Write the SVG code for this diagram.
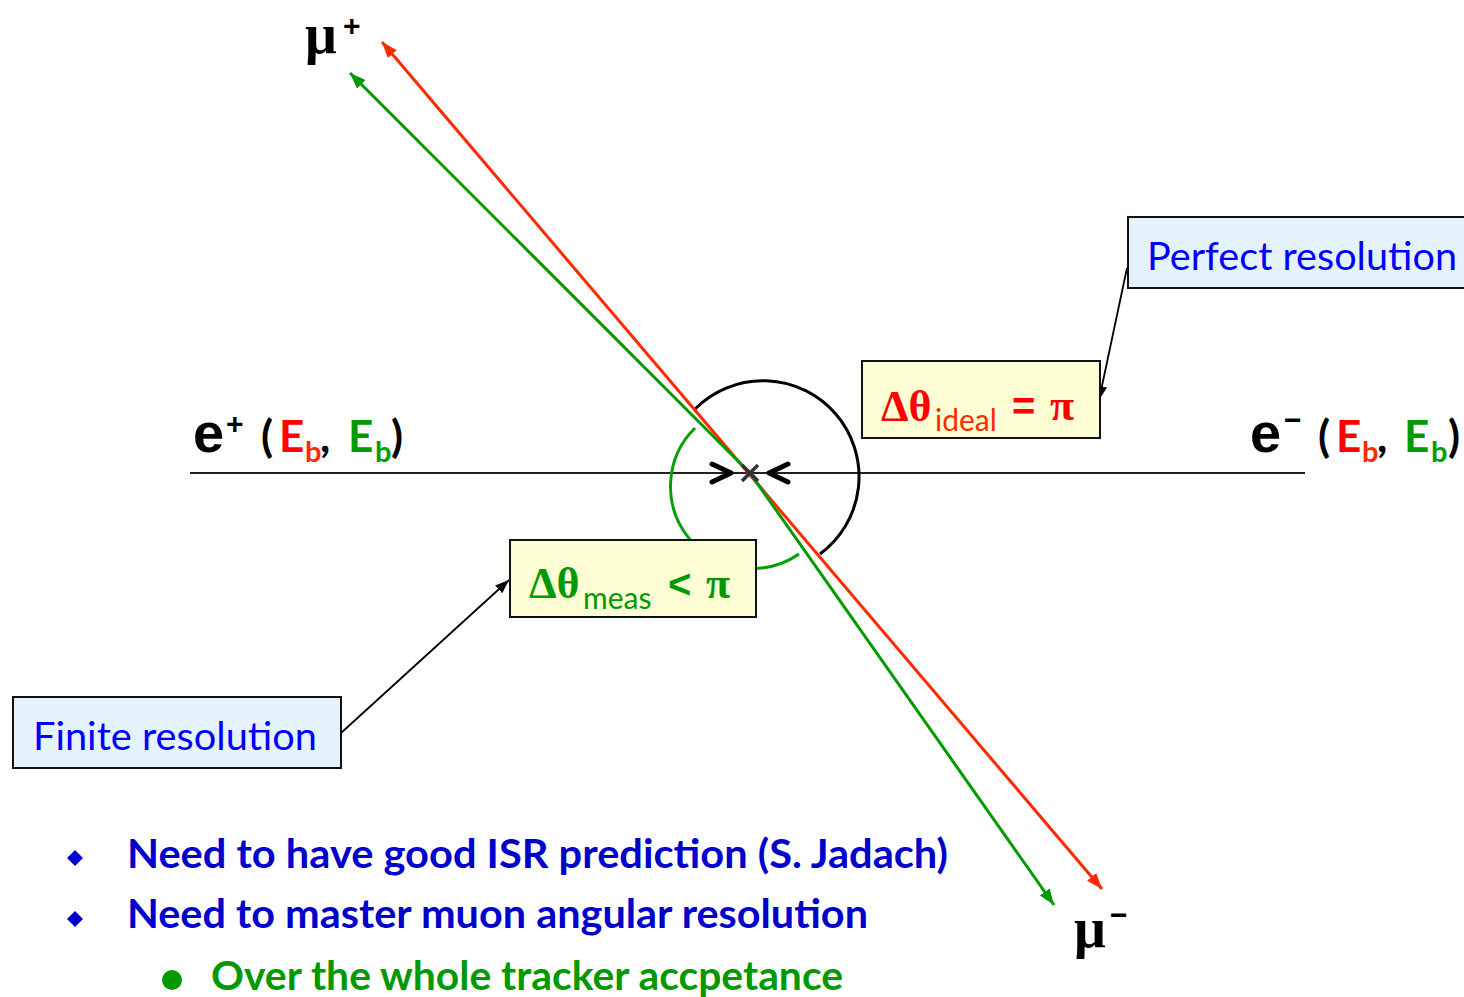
<svg xmlns="http://www.w3.org/2000/svg" width="1464" height="997" viewBox="0 0 1464 997">
<defs>
<style>
.sans{font-family:Lato,"Open Sans","Liberation Sans",sans-serif}
.serif{font-family:"Liberation Serif","DejaVu Serif",serif;font-weight:bold}
.big{font-family:"Liberation Sans",Arial,sans-serif;font-weight:bold}
.bul{font-family:Lato,"Open Sans","Liberation Sans",sans-serif;font-weight:bold;font-size:40px}
.lbl{font-family:Lato,"Open Sans","Liberation Sans",sans-serif;font-weight:bold;font-size:44px}
.sub{font-size:29px}
.box{stroke:#111;stroke-width:2}
.ybox{fill:#ffffd5}
.bbox{fill:#e5f3ff}
</style>
<marker id="arR" viewBox="0 0 16 12" refX="16" refY="6" markerWidth="16" markerHeight="12" markerUnits="userSpaceOnUse" orient="auto-start-reverse"><path d="M0,0 L16,6 L0,12 z" fill="#ff2a00"/></marker>
<marker id="arG" viewBox="0 0 16 12" refX="16" refY="6" markerWidth="16" markerHeight="12" markerUnits="userSpaceOnUse" orient="auto-start-reverse"><path d="M0,0 L16,6 L0,12 z" fill="#009900"/></marker>
<marker id="arK" viewBox="0 0 16 12" refX="16" refY="6" markerWidth="14" markerHeight="11" markerUnits="userSpaceOnUse" orient="auto"><path d="M0,0 L16,6 L0,12 z" fill="#000"/></marker>
</defs>
<rect width="1464" height="997" fill="#fff"/>

<g id="connectors" fill="none">
  <path d="M190,473 L1305,473" stroke="#222" stroke-width="2"/>
  <path d="M695,409 A96,96 0 1 1 820,554" stroke="#000" stroke-width="3"/>
  <path d="M695,428 A82,82 0 0 0 799,554" stroke="#00a000" stroke-width="3"/>
  <path d="M382,42 L1102,889" stroke="#ff2a00" stroke-width="3" marker-start="url(#arR)" marker-end="url(#arR)"/>
  <path d="M750,473 L350,73" stroke="#009900" stroke-width="3" marker-end="url(#arG)"/>
  <path d="M750,473 L1054,905" stroke="#009900" stroke-width="3" marker-end="url(#arG)"/>
  <path d="M712,464 L731,473 L712,482 M788,464 L769,473 L788,482" stroke="#000" stroke-width="5" stroke-linecap="round" stroke-linejoin="round"/>
  <path d="M742,465 L758,481 M758,465 L742,481" stroke="#333" stroke-width="3.5"/>
  <path d="M341,733 L509,580" stroke="#000" stroke-width="1.8" marker-end="url(#arK)"/>
  <path d="M1127,268 L1099,400" stroke="#000" stroke-width="1.8" marker-end="url(#arK)"/>
</g>

<g id="mu-plus">
  <text x="305" y="53" class="serif" font-size="56" fill="#000">μ</text>
  <text x="343" y="36" class="big" font-size="30" fill="#000">+</text>
</g>
<g id="mu-minus">
  <text x="1074" y="947" class="serif" font-size="56" fill="#000">μ</text>
  <text x="1110" y="925" class="big" font-size="30" fill="#000">−</text>
</g>

<g id="e-plus">
  <text x="193" y="452" class="big" font-size="56" fill="#000">e</text>
  <text x="226" y="434" class="big" font-size="30" fill="#000">+</text>
  <text y="452" class="lbl"><tspan x="261" fill="#000">(</tspan><tspan x="279" fill="#ff0000">E</tspan><tspan x="305" y="462" class="sub" fill="#ff2a00">b</tspan><tspan x="320" y="452" fill="#000">,</tspan><tspan x="348" fill="#009900">E</tspan><tspan x="375" y="462" class="sub" fill="#00a000">b</tspan><tspan x="391" y="452" fill="#000">)</tspan></text>
</g>
<g id="e-minus">
  <text x="1250" y="452" class="big" font-size="56" fill="#000">e</text>
  <text x="1284" y="430" class="big" font-size="30" fill="#000">−</text>
  <text y="452" class="lbl"><tspan x="1318" fill="#000">(</tspan><tspan x="1336" fill="#ff0000">E</tspan><tspan x="1362" y="462" class="sub" fill="#ff2a00">b</tspan><tspan x="1377" y="452" fill="#000">,</tspan><tspan x="1404" fill="#009900">E</tspan><tspan x="1431" y="462" class="sub" fill="#00a000">b</tspan><tspan x="1448" y="452" fill="#000">)</tspan></text>
</g>

<g id="ideal-box">
  <rect x="862" y="361" width="238" height="77" class="box ybox"/>
  <text x="881" y="421" class="serif" font-size="44" fill="#ff0000">Δθ</text>
  <text x="935" y="431" class="sans" font-size="30" fill="#ff2a00">ideal</text>
  <text x="1012" y="420" class="big" font-size="40" fill="#ff0000">=</text>
  <text x="1050" y="420" class="serif" font-size="44" fill="#ff0000">π</text>
</g>

<g id="meas-box">
  <rect x="510" y="540" width="246" height="77" class="box ybox"/>
  <text x="529" y="598" class="serif" font-size="44" fill="#009900">Δθ</text>
  <text x="583" y="609" class="sans" font-size="30" fill="#009900">meas</text>
  <text x="668" y="598" class="big" font-size="40" fill="#009900">&lt;</text>
  <text x="706" y="598" class="serif" font-size="44" fill="#009900">π</text>
</g>

<g id="perfect-box">
  <rect x="1128" y="217" width="342" height="71" class="box bbox"/>
  <text x="1147" y="270" class="sans" font-size="38" fill="#0000ff" textLength="310" lengthAdjust="spacingAndGlyphs">Perfect resolution</text>
</g>

<g id="finite-box">
  <rect x="13" y="697" width="328" height="71" class="box bbox"/>
  <text x="33" y="750" class="sans" font-size="38" fill="#0000ff" textLength="284" lengthAdjust="spacingAndGlyphs">Finite resolution</text>
</g>

<g id="bullets">
  <path d="M75,850 L83,858 L75,866 L67,858 z" fill="#0000cc"/>
  <text x="127" y="868" class="bul" fill="#0000cc" textLength="821" lengthAdjust="spacingAndGlyphs">Need to have good ISR prediction (S. Jadach)</text>
  <path d="M75,911 L83,919 L75,927 L67,919 z" fill="#0000cc"/>
  <text x="127" y="928" class="bul" fill="#0000cc" textLength="741" lengthAdjust="spacingAndGlyphs">Need to master muon angular resolution</text>
  <circle cx="172" cy="980" r="10" fill="#009900"/>
  <text x="211" y="990" class="bul" fill="#009900" textLength="632" lengthAdjust="spacingAndGlyphs">Over the whole tracker accpetance</text>
</g>
</svg>
